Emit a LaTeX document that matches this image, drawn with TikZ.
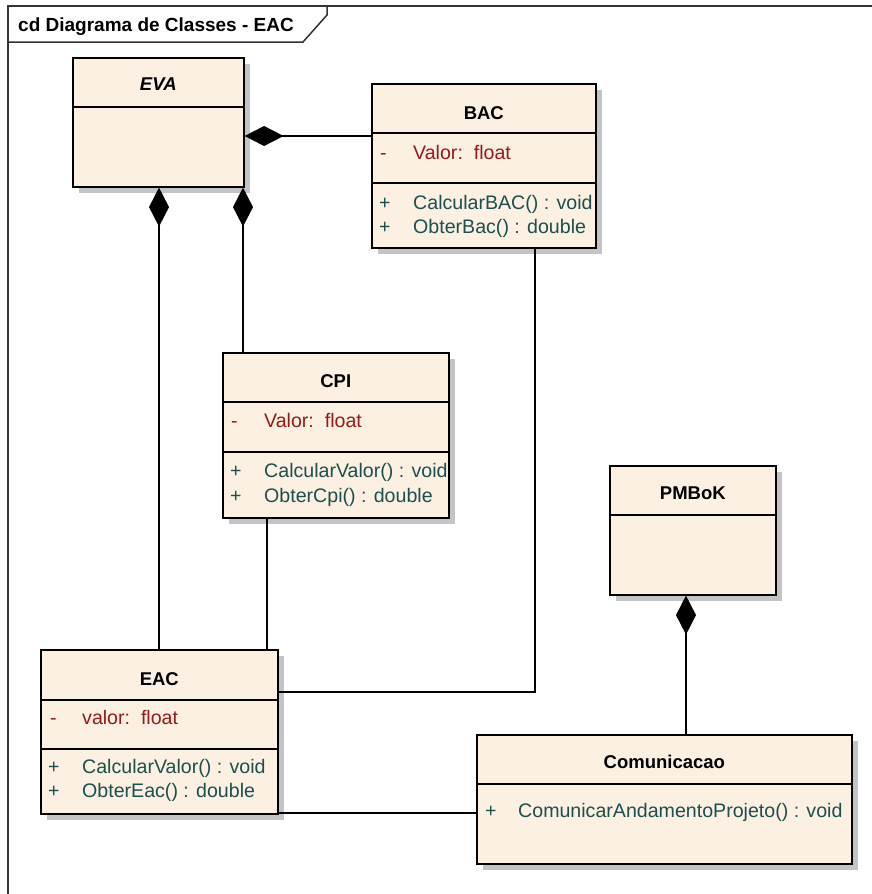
\documentclass[tikz,border=0pt]{standalone}
\usepackage{fontspec}
\setmainfont{Liberation Sans}
\usetikzlibrary{arrows.meta,shadows}
\definecolor{classfill}{HTML}{FBF0E2}
\definecolor{attrcol}{HTML}{971A1A}
\definecolor{opcol}{HTML}{1D4F4F}
\definecolor{shadowcol}{HTML}{C4C4C4}
\tikzset{
  umlclass/.style={draw=black, line width=1.6pt, fill=classfill, inner sep=0pt,
    anchor=north west, drop shadow={shadow xshift=6pt, shadow yshift=-6pt, fill=shadowcol, opacity=1}},
  divider/.style={draw=black, line width=1.4pt},
  cname/.style={anchor=base, inner sep=0pt, font=\fontsize{18.5}{20}\selectfont\bfseries},
  attr/.style={anchor=base west, inner sep=0pt, text=attrcol, font=\fontsize{19.6}{22}\selectfont},
  op/.style={anchor=base west, inner sep=0pt, text=opcol, font=\fontsize{19.6}{22}\selectfont},
  link/.style={draw=black, line width=1.8pt},
  comp/.style={link, {Diamond[length=39pt,width=20pt]}-},
  framebox/.style={draw=black!80, line width=1.5pt}
}
\begin{document}
\begin{tikzpicture}[x=1pt, y=-1pt]
\useasboundingbox (0,0) rectangle (872,894);

% diagram frame and title tab
\draw[framebox] (8,894) -- (8,6) -- (872,6);
\draw[framebox] (8,42) -- (303,42) -- (327,15) -- (327,6);
\node[anchor=base west, inner sep=0pt, font=\fontsize{19}{21}\selectfont\bfseries] (title) at (18,31) {cd Diagrama de Classes - EAC};

% classes
\node[umlclass, minimum width=171pt, minimum height=129pt] (eva) at (72,57) {};
\node[umlclass, minimum width=224pt, minimum height=164pt] (bac) at (371,83) {};
\node[umlclass, minimum width=226pt, minimum height=165pt] (cpi) at (222,352) {};
\node[umlclass, minimum width=237pt, minimum height=164pt] (eac) at (40,649) {};
\node[umlclass, minimum width=166pt, minimum height=129pt] (pmbok) at (609,465) {};
\node[umlclass, minimum width=375pt, minimum height=129pt] (com) at (476,734) {};

% compartment dividers
\draw[divider] (eva.west |- 0,107) -- (eva.east |- 0,107);
\draw[divider] (bac.west |- 0,133) -- (bac.east |- 0,133);
\draw[divider] (bac.west |- 0,183) -- (bac.east |- 0,183);
\draw[divider] (cpi.west |- 0,402) -- (cpi.east |- 0,402);
\draw[divider] (cpi.west |- 0,452) -- (cpi.east |- 0,452);
\draw[divider] (eac.west |- 0,700) -- (eac.east |- 0,700);
\draw[divider] (eac.west |- 0,749) -- (eac.east |- 0,749);
\draw[divider] (pmbok.west |- 0,515) -- (pmbok.east |- 0,515);
\draw[divider] (com.west |- 0,784) -- (com.east |- 0,784);

% class names
\node[cname, font=\fontsize{18.5}{20}\selectfont\bfseries\itshape] (evaname) at (eva.center |- 0,90) {EVA};
\node[cname] (bacname) at (bac.center |- 0,119) {BAC};
\node[cname] (cpiname) at (cpi.center |- 0,387) {CPI};
\node[cname] (eacname) at (eac.center |- 0,685) {EAC};
\node[cname] (pmbokname) at (pmbok.center |- 0,499) {PMBoK};
\node[cname] (comname) at (com.center |- 0,768) {Comunicacao};

% BAC members
\node[attr] (bacv) at (380,159) {-};
\node[attr] (bacva) at (413,159) {Valor:\ \ float};
\node[op] (bacp1) at (379,209) {+};
\node[op] (bacm1) at (413,209) {CalcularBAC() : void};
\node[op] (bacp2) at (379,233) {+};
\node[op] (bacm2) at (413,233) {ObterBac() : double};

% CPI members
\node[attr] (cpiv) at (231,427) {-};
\node[attr] (cpiva) at (264,427) {Valor:\ \ float};
\node[op] (cpip1) at (230,477) {+};
\node[op] (cpim1) at (264,477) {CalcularValor() : void};
\node[op] (cpip2) at (230,502) {+};
\node[op] (cpim2) at (264,502) {ObterCpi() : double};

% EAC members
\node[attr] (eacv) at (50,724) {-};
\node[attr] (eacva) at (82,724) {valor:\ \ float};
\node[op] (eacp1) at (48,773) {+};
\node[op] (eacm1) at (82,773) {CalcularValor() : void};
\node[op] (eacp2) at (48,797) {+};
\node[op] (eacm2) at (82,797) {ObterEac() : double};

% Comunicacao members
\node[op] (comp1) at (485,817) {+};
\node[op] (comm1) at (518,817) {ComunicarAndamentoProjeto() : void};

% compositions
\draw[comp] (eva.east |- 0,136) -- (bac.west |- 0,136);
\draw[comp] (eva.south -| 159,0) -- (eac.north -| 159,0);
\draw[comp] (eva.south -| 243,0) -- (cpi.north -| 243,0);
\draw[comp] (pmbok.south -| 686,0) -- (com.north -| 686,0);

% associations
\draw[link] (cpi.south -| 267,0) -- (eac.north -| 267,0);
\draw[link] (bac.south -| 535,0) |- (eac.east |- 0,692);
\draw[link] (eac.east |- 0,813) -- (com.west |- 0,813);
\end{tikzpicture}
\end{document}
